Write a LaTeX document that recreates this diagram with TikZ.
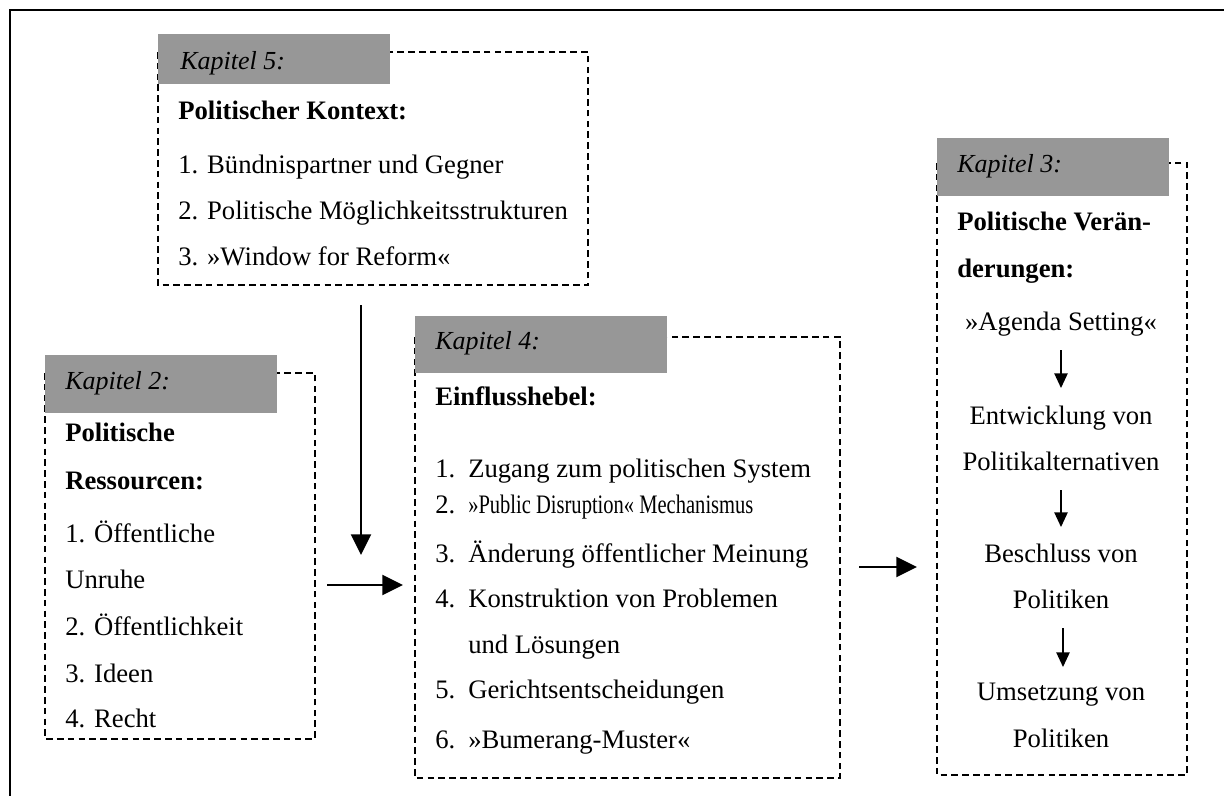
\documentclass[tikz,border=0pt]{standalone}
\usepackage{fontspec}
\setmainfont{Liberation Serif}
\usetikzlibrary{arrows.meta}
\definecolor{labelgray}{RGB}{151,151,151}
\newcommand{\nr}[1]{\makebox[24.75pt][l]{#1}}
\newcommand{\kap}[1]{{\fontsize{19.5}{22}\selectfont\itshape #1}}

\begin{document}
\begin{tikzpicture}[x=0.75pt,y=-0.75pt,
  font=\fontsize{20}{24}\selectfont,
  box/.style={draw,dash pattern=on 4.9pt off 3.2pt,line width=1.5pt},
  txt/.style={anchor=base west,inner sep=0pt},
  ctxt/.style={anchor=base,inner sep=0pt},
  bigarrow/.style={line width=1.5pt,-{Triangle[length=15.5pt,width=15pt]}},
  smallarrow/.style={line width=1.1pt,-{Triangle[length=11pt,width=10pt]}}]
 \useasboundingbox (0,0) rectangle (1224,796);
 \draw[line width=1.5pt] (1224,10) -- (10,10) -- (10,796);

 % Kapitel 5
 \draw[box] (158,52) rectangle (588,285);
 \fill[labelgray] (158,34) rectangle (390,84);
 \node[txt] (K5) at (180,69) {\kap{Kapitel 5:}};
 \node[txt] (K5t) at (178,119) {\textbf{Politischer Kontext:}};
 \node[txt] (K5a) at (178,173) {1. Bündnispartner und Gegner};
 \node[txt] (K5b) at (178,219) {2. Politische Möglichkeitsstrukturen};
 \node[txt] (K5c) at (178,265) {3. »Window for Reform«};

 % Kapitel 2
 \draw[box] (45,373) rectangle (315,739);
 \fill[labelgray] (45,355) rectangle (277,413);
 \node[txt] (K2) at (65,389) {\kap{Kapitel 2:}};
 \node[txt] (K2t) at (65,441) {\textbf{Politische}};
 \node[txt] (K2u) at (65,489) {\textbf{Ressourcen:}};
 \node[txt] (K2a) at (65,542) {1. Öffentliche};
 \node[txt] (K2b) at (65,588) {Unruhe};
 \node[txt] (K2c) at (65,635) {2. Öffentlichkeit};
 \node[txt] (K2d) at (65,682) {3. Ideen};
 \node[txt] (K2e) at (65,727) {4. Recht};

 % Kapitel 4
 \draw[box] (415,337) rectangle (840,778);
 \fill[labelgray] (415,316) rectangle (667,373);
 \node[txt] (K4) at (435,349) {\kap{Kapitel 4:}};
 \node[txt] (K4t) at (435,405) {\textbf{Einflusshebel:}};
 \node[txt] (K4a) at (435,477) {\nr{1.}Zugang zum politischen System};
 \node[txt] (K4b) at (435,513) {\nr{2.}\scalebox{0.77}[1]{»Public Disruption« Mechanismus}};
 \node[txt] (K4c) at (435,562) {\nr{3.}Änderung öffentlicher Meinung};
 \node[txt] (K4d) at (435,607) {\nr{4.}Konstruktion von Problemen};
 \node[txt] (K4e) at (435,653) {\nr{}und Lösungen};
 \node[txt] (K4f) at (435,698) {\nr{5.}Gerichtsentscheidungen};
 \node[txt] (K4g) at (435,748) {\nr{6.}»Bumerang-Muster«};

 % Kapitel 3
 \draw[box] (937,163) rectangle (1187,775);
 \fill[labelgray] (937,138) rectangle (1169,196);
 \node[txt] (K3) at (957,172) {\kap{Kapitel 3:}};
 \node[txt] (K3t) at (957,230) {\textbf{Politische Verän-}};
 \node[txt] (K3u) at (957,277) {\textbf{derungen:}};
 \node[ctxt] (agenda) at (1061,330) {»Agenda Setting«};
 \node[ctxt] (entw) at (1061,424) {Entwicklung von};
 \node[ctxt] (entw2) at (1061,470) {Politikalternativen};
 \node[ctxt] (beschl) at (1061,562) {Beschluss von};
 \node[ctxt] (beschl2) at (1061,608) {Politiken};
 \node[ctxt] (ums) at (1061,700) {Umsetzung von};
 \node[ctxt] (ums2) at (1061,747) {Politiken};

 \coordinate (s1) at (1061,350);
 \coordinate (e1) at (1061,388);
 \coordinate (s2) at (1061,490);
 \coordinate (e2) at (1061,527);
 \coordinate (s3) at (1063,628);
 \coordinate (e3) at (1063,667);
 \draw[smallarrow] (s1) -- (e1);
 \draw[smallarrow] (s2) -- (e2);
 \draw[smallarrow] (s3) -- (e3);

 \coordinate (k5out) at (361,305);
 \coordinate (k4top) at (361,555);
 \coordinate (k2out) at (327,585);
 \coordinate (k4in) at (403,585);
 \coordinate (k4out) at (859,567);
 \coordinate (k3in) at (917,567);
 \draw[bigarrow] (k5out) -- (k4top);
 \draw[bigarrow] (k2out) -- (k4in);
 \draw[bigarrow] (k4out) -- (k3in);
\end{tikzpicture}
\end{document}
